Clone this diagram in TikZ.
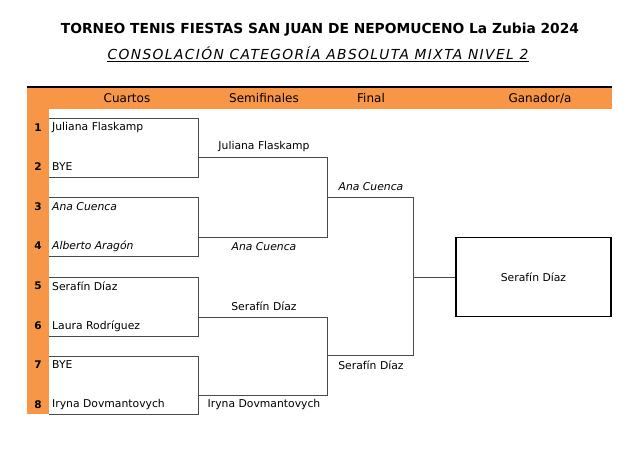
\documentclass[tikz,border=0pt]{standalone}
\usepackage{fontspec}
\setmainfont{DejaVu Sans}
\definecolor{orng}{HTML}{F79646}
\definecolor{lin}{HTML}{4A4A4A}
\begin{document}
\begin{tikzpicture}[x=1pt,y=-1pt,
  nm/.style={anchor=west,inner sep=0pt,font=\fontsize{10.8}{12}\selectfont},
  num/.style={inner sep=0pt,font=\fontsize{10.5}{12}\selectfont\bfseries},
  lab/.style={inner sep=0pt,font=\fontsize{10.8}{12}\selectfont},
  hd/.style={inner sep=0pt,font=\fontsize{12}{14}\selectfont},
  br/.style={draw=lin,line width=0.8pt}]
\useasboundingbox (0,0) rectangle (639,458);
% title
\node[inner sep=0pt,font=\fontsize{13.8}{16}\selectfont\bfseries] (t1) at (320,30) {TORNEO TENIS FIESTAS SAN JUAN DE NEPOMUCENO La Zubia 2024};
\node[inner sep=0pt,font=\fontsize{13.8}{16}\selectfont\itshape\addfontfeature{LetterSpace=10}] (t2) at (318,53) {CONSOLACIÓN CATEGORÍA ABSOLUTA MIXTA NIVEL 2};
\draw[line width=0.8pt] ([yshift=-2.5pt]t2.base west) -- ([yshift=-2.5pt]t2.base east);
% orange header and column
\fill[orng] (27,87) rectangle (612,109);
\fill[orng] (27,87) rectangle (49,414);
\coordinate (hl) at (27,87); \coordinate (hr) at (612,87);
\draw[line width=1.2pt] (hl) -- (hr);
\node[hd] (h1) at (127,98) {Cuartos};
\node[hd] (h2) at (264,98) {Semifinales};
\node[hd] (h3) at (371,98) {Final};
\node[hd] (h4) at (540,98) {Ganador/a};
% first round boxes
\foreach \i/\t/\b in {a/118/177,b/197/256,c/277/336,d/356/414}{
  \coordinate (\i1) at (49,\t); \coordinate (\i2) at (198,\t);
  \coordinate (\i3) at (198,\b); \coordinate (\i4) at (49,\b);
  \draw[br] (\i1) -- (\i2) -- (\i3) -- (\i4);
}
% numbers
\foreach \n/\y in {1/128,2/167,3/207,4/246,5/286,6/326,7/365,8/405}{
  \node[num] (n\n) at (38,\y) {\n};
}
\node[nm] (p1) at (52,128) {Juliana Flaskamp};
\node[nm] (p2) at (52,167) {BYE};
\node[nm] (p3) at (52,207) {\itshape Ana Cuenca};
\node[nm] (p4) at (52,246) {\itshape Alberto Aragón};
\node[nm] (p5) at (52,286) {Serafín Díaz};
\node[nm] (p6) at (52,326) {Laura Rodríguez};
\node[nm] (p7) at (52,365) {BYE};
\node[nm] (p8) at (52,405) {Iryna Dovmantovych};
% semifinal brackets
\coordinate (s1) at (198,157); \coordinate (s2) at (327,157);
\coordinate (s3) at (327,237); \coordinate (s4) at (198,237);
\draw[br] (s1) -- (s2) -- (s3) -- (s4);
\coordinate (u1) at (198,317); \coordinate (u2) at (327,317);
\coordinate (u3) at (327,395); \coordinate (u4) at (198,395);
\draw[br] (u1) -- (u2) -- (u3) -- (u4);
\node[lab] (q1) at (264,147) {Juliana Flaskamp};
\node[lab] (q2) at (264,247) {\itshape Ana Cuenca};
\node[lab] (q3) at (264,306) {Serafín Díaz};
\node[lab] (q4) at (264,405) {Iryna Dovmantovych};
% final bracket
\coordinate (f1) at (327,197); \coordinate (f2) at (413,197);
\coordinate (f3) at (413,355); \coordinate (f4) at (327,355);
\draw[br] (f1) -- (f2) -- (f3) -- (f4);
\node[lab] (r1) at (371,187) {\itshape Ana Cuenca};
\node[lab] (r2) at (371,365) {Serafín Díaz};
\coordinate (fm) at (413,277);
% winner
\node[draw,line width=1.4pt,minimum width=155pt,minimum height=79pt,inner sep=0pt,
      font=\fontsize{10.8}{12}\selectfont] (w) at (533.5,277) {Serafín Díaz};
\draw[br] (fm) -- (w.west);
\end{tikzpicture}
\end{document}
